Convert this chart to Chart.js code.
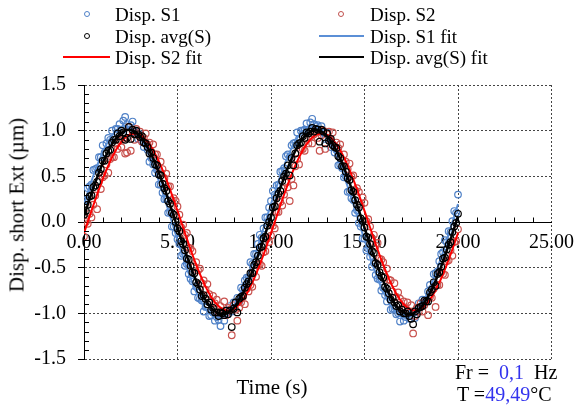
<!DOCTYPE html>
<html>
<head>
<meta charset="utf-8">
<script src="https://cdn.jsdelivr.net/npm/chart.js@4/dist/chart.umd.min.js"></script>
<style>
  html, body { margin: 0; padding: 0; background: #fff; }
  #wrap { position: relative; width: 583px; height: 409px; font-family: "Liberation Serif", "Times New Roman", serif; color: #000; }
  #chart { position: absolute; left: 0; top: 0; }
  .txt { position: absolute; white-space: nowrap; font-size: 19px; line-height: 1; transform: translateY(-50%); }
  .dot { position: absolute; width: 4px; height: 4px; border-radius: 50%; border: 1px solid; transform: translate(-50%, -50%); }
  .ln { position: absolute; height: 2px; transform: translateY(-50%); }
  .blue { color: #3333ee; }
</style>
</head>
<body>
<div id="wrap">
  <canvas id="chart" width="583" height="409"></canvas>

  <span class="dot" style="left:87px;top:14px;border-color:#4f81c7"></span>
  <span class="txt" style="left:115px;top:14px">Disp. S1</span>
  <span class="dot" style="left:341px;top:14px;border-color:#c0504d"></span>
  <span class="txt" style="left:370px;top:14px">Disp. S2</span>
  <span class="dot" style="left:87px;top:36px;border-color:#000"></span>
  <span class="txt" style="left:115px;top:36px">Disp. avg(S)</span>
  <span class="ln" style="left:319px;top:36px;width:45px;background:#5b8fd6"></span>
  <span class="txt" style="left:370px;top:36px">Disp. S1 fit</span>
  <span class="ln" style="left:63px;top:57px;width:47px;background:#ff0000"></span>
  <span class="txt" style="left:115px;top:57px">Disp. S2 fit</span>
  <span class="ln" style="left:319px;top:57px;width:45px;background:#000"></span>
  <span class="txt" style="left:370px;top:57px">Disp. avg(S) fit</span>

  <span class="txt" style="left:17px;top:205px;font-size:21px;transform:translate(-50%,-50%) rotate(-90deg)">Disp. short Ext (µm)</span>
  <span class="txt" style="left:272px;top:387px;font-size:21px;transform:translate(-50%,-50%)">Time (s)</span>

  <span class="txt" style="left:455px;top:372px;font-size:20px">Fr = <span class="blue">&nbsp;0,1</span>&nbsp; Hz</span>
  <span class="txt" style="left:457px;top:394px;font-size:20px">T =<span class="blue">49,49</span>°C</span>
</div>
<script>
// sample times (s)
const time = [
  0,0.1,0.2,0.3,0.4,0.5,0.6,0.7,0.8,0.9,
  1,1.1,1.2,1.3,1.4,1.5,1.6,1.7,1.8,1.9,
  2,2.1,2.2,2.3,2.4,2.5,2.6,2.7,2.8,2.9,
  3,3.1,3.2,3.3,3.4,3.5,3.6,3.7,3.8,3.9,
  4,4.1,4.2,4.3,4.4,4.5,4.6,4.7,4.8,4.9,
  5,5.1,5.2,5.3,5.4,5.5,5.6,5.7,5.8,5.9,
  6,6.1,6.2,6.3,6.4,6.5,6.6,6.7,6.8,6.9,
  7,7.1,7.2,7.3,7.4,7.5,7.6,7.7,7.8,7.9,
  8,8.1,8.2,8.3,8.4,8.5,8.6,8.7,8.8,8.9,
  9,9.1,9.2,9.3,9.4,9.5,9.6,9.7,9.8,9.9,
  10,10.1,10.2,10.3,10.4,10.5,10.6,10.7,10.8,10.9,
  11,11.1,11.2,11.3,11.4,11.5,11.6,11.7,11.8,11.9,
  12,12.1,12.2,12.3,12.4,12.5,12.6,12.7,12.8,12.9,
  13,13.1,13.2,13.3,13.4,13.5,13.6,13.7,13.8,13.9,
  14,14.1,14.2,14.3,14.4,14.5,14.6,14.7,14.8,14.9,
  15,15.1,15.2,15.3,15.4,15.5,15.6,15.7,15.8,15.9,
  16,16.1,16.2,16.3,16.4,16.5,16.6,16.7,16.8,16.9,
  17,17.1,17.2,17.3,17.4,17.5,17.6,17.7,17.8,17.9,
  18,18.1,18.2,18.3,18.4,18.5,18.6,18.7,18.8,18.9,
  19,19.1,19.2,19.3,19.4,19.5,19.6,19.7,19.8,19.9,
  20
];

// measured displacement, sensor 1 (µm)
const dispS1 = [
  0.23,0.24,0.37,0.39,0.41,0.57,0.58,0.59,0.71,0.71,
  0.84,0.76,0.86,0.92,0.90,1.00,0.92,1.02,1.02,1.07,
  1.01,1.11,1.15,1.07,0.99,1.06,1.10,0.98,0.99,0.91,
  0.96,0.89,0.82,0.86,0.79,0.66,0.70,0.63,0.54,0.57,
  0.41,0.41,0.32,0.25,0.25,0.10,0.11,-0.05,-0.05,-0.12,
  -0.19,-0.24,-0.37,-0.35,-0.48,-0.46,-0.57,-0.62,-0.65,-0.76,
  -0.71,-0.83,-0.84,-0.86,-0.98,-0.93,-0.93,-1.03,-1.02,-0.99,
  -1.08,-1.04,-1.07,-1.14,-1.01,-1.08,-1.00,-1.01,-0.92,-0.98,
  -0.88,-0.89,-0.83,-0.87,-0.72,-0.74,-0.64,-0.61,-0.61,-0.44,
  -0.46,-0.35,-0.35,-0.24,-0.14,-0.17,-0.07,0.05,0.05,0.16,
  0.23,0.34,0.30,0.40,0.41,0.55,0.56,0.59,0.72,0.74,
  0.71,0.84,0.86,0.87,0.98,0.91,1.00,1.00,1.01,1.08,
  1.01,1.09,1.13,1.07,1.05,1.06,1.00,1.05,0.98,0.91,
  0.98,0.91,0.82,0.85,0.76,0.79,0.62,0.63,0.59,0.49,
  0.50,0.33,0.34,0.26,0.24,0.10,0.13,-0.01,-0.05,-0.18,
  -0.18,-0.31,-0.29,-0.38,-0.49,-0.45,-0.58,-0.62,-0.63,-0.75,
  -0.72,-0.80,-0.87,-0.82,-0.96,-0.95,-0.95,-1.01,-1.00,-1.09,
  -1.00,-1.08,-1.04,-1.00,-1.06,-1.03,-0.99,-1.05,-0.96,-0.89,
  -0.93,-0.85,-0.87,-0.85,-0.76,-0.69,-0.73,-0.57,-0.56,-0.54,
  -0.43,-0.35,-0.33,-0.20,-0.22,-0.10,-0.11,0.01,0.12,0.10,
  0.30
];

// measured displacement, sensor 2 (µm)
const dispS2 = [
  -0.16,0.00,-0.02,0.09,0.05,0.19,0.29,0.14,0.44,0.36,
  0.49,0.51,0.63,0.54,0.69,0.71,0.71,0.86,0.80,0.89,
  0.82,0.91,0.75,0.76,1.04,0.78,0.99,0.90,1.02,0.95,
  0.99,0.88,0.92,0.97,0.85,0.87,0.77,0.85,0.74,0.74,
  0.58,0.66,0.58,0.48,0.53,0.39,0.39,0.24,0.26,0.23,
  0.17,0.08,-0.06,-0.03,-0.14,-0.12,-0.28,-0.29,-0.32,-0.49,
  -0.44,-0.53,-0.51,-0.67,-0.64,-0.74,-0.68,-0.79,-0.88,-0.81,
  -0.89,-0.85,-0.99,-0.92,-0.98,-0.87,-1.02,-0.94,-0.96,-1.24,
  -0.91,-0.96,-1.08,-0.94,-0.88,-0.82,-0.90,-0.73,-0.76,-0.69,
  -0.71,-0.54,-0.60,-0.47,-0.46,-0.48,-0.33,-0.32,-0.18,-0.22,
  -0.15,-0.04,-0.07,0.11,0.11,0.22,0.18,0.30,0.43,0.38,
  0.23,0.47,0.40,0.61,0.69,0.63,0.79,0.80,0.78,0.91,
  0.86,0.93,0.86,0.96,1.00,0.92,0.78,0.95,1.00,0.80,
  0.96,0.99,0.89,0.98,0.83,0.87,0.81,0.85,0.67,0.74,
  0.66,0.58,0.64,0.50,0.51,0.35,0.37,0.33,0.19,0.27,
  0.21,0.01,0.03,-0.05,-0.18,-0.14,-0.26,-0.23,-0.40,-0.41,
  -0.44,-0.60,-0.51,-0.63,-0.64,-0.76,-0.67,-0.82,-0.77,-0.84,
  -0.95,-0.87,-0.94,-0.88,-0.99,-0.91,-1.22,-1.03,-0.94,-0.98,
  -0.89,-0.98,-0.91,-0.86,-1.02,-0.82,-0.83,-0.73,-0.93,-0.69,
  -0.69,-0.55,-0.57,-0.58,-0.43,-0.42,-0.31,-0.37,-0.22,-0.21,
  -0.08
];

// average of both sensors (µm)
const dispAvg = [
  0.08,0.12,0.19,0.28,0.29,0.38,0.40,0.44,0.54,0.58,
  0.67,0.67,0.75,0.78,0.79,0.87,0.90,0.90,0.97,0.94,
  1.00,0.98,0.90,0.92,1.04,0.91,1.01,0.96,1.00,0.96,
  0.93,0.94,0.87,0.86,0.82,0.75,0.76,0.70,0.63,0.62,
  0.52,0.51,0.42,0.37,0.34,0.23,0.20,0.10,0.08,0.00,
  -0.07,-0.10,-0.21,-0.24,-0.31,-0.40,-0.41,-0.48,-0.55,-0.56,
  -0.66,-0.68,-0.74,-0.81,-0.80,-0.84,-0.90,-0.88,-0.96,-0.94,
  -0.99,-0.99,-1.03,-0.99,-1.00,-1.02,-0.97,-1.01,-0.97,-1.15,
  -0.95,-0.88,-0.99,-0.84,-0.82,-0.81,-0.72,-0.68,-0.65,-0.56,
  -0.56,-0.47,-0.44,-0.37,-0.28,-0.27,-0.18,-0.16,-0.04,0.00,
  0.05,0.16,0.17,0.26,0.31,0.34,0.45,0.50,0.53,0.62,
  0.51,0.70,0.62,0.75,0.84,0.86,0.87,0.94,0.92,0.98,
  0.97,0.99,1.03,0.99,1.02,1.01,0.88,1.01,0.99,0.86,
  0.97,0.89,0.91,0.84,0.82,0.81,0.72,0.70,0.61,0.61,
  0.55,0.48,0.46,0.35,0.33,0.24,0.19,0.16,0.04,0.01,
  -0.06,-0.16,-0.17,-0.24,-0.32,-0.34,-0.45,-0.47,-0.55,-0.59,
  -0.61,-0.71,-0.73,-0.78,-0.85,-0.83,-0.88,-0.92,-0.91,-0.98,
  -0.96,-1.00,-1.00,-0.98,-1.03,-1.06,-1.12,-0.98,-1.01,-0.94,
  -0.93,-0.92,-0.86,-0.87,-0.87,-0.77,-0.74,-0.66,-0.70,-0.57,
  -0.55,-0.49,-0.40,-0.39,-0.30,-0.25,-0.22,-0.11,-0.05,-0.01,
  0.09
];

// fitted curves, sampled every 0.5 s
const fitTime = [
  0,0.5,1,1.5,2,2.5,3,3.5,4,4.5,5,5.5,6,6.5,7,7.5,8,8.5,9,9.5,
  10,10.5,11,11.5,12,12.5,13,13.5,14,14.5,15,15.5,16,16.5,17,17.5,18,18.5,19,19.5,
  20
];
const fitS1 = [
  0.197,0.506,0.765,0.950,1.042,1.031,0.920,0.719,0.447,0.132,
  -0.197,-0.506,-0.765,-0.950,-1.042,-1.031,-0.920,-0.719,-0.447,-0.132,
  0.197,0.506,0.765,0.950,1.042,1.031,0.920,0.719,0.447,0.132,
  -0.197,-0.506,-0.765,-0.950,-1.042,-1.031,-0.920,-0.719,-0.447,-0.132,
  0.197
];
const fitS2 = [
  -0.122,0.182,0.467,0.707,0.878,0.962,0.953,0.850,0.664,0.413,
  0.122,-0.182,-0.467,-0.707,-0.878,-0.962,-0.953,-0.850,-0.664,-0.413,
  -0.122,0.182,0.467,0.707,0.878,0.962,0.953,0.850,0.664,0.413,
  0.122,-0.182,-0.467,-0.707,-0.878,-0.962,-0.953,-0.850,-0.664,-0.413,
  -0.122
];
const fitAvg = [
  0.063,0.372,0.644,0.853,0.978,1.008,0.939,0.778,0.541,0.251,
  -0.063,-0.372,-0.644,-0.853,-0.978,-1.008,-0.939,-0.778,-0.541,-0.251,
  0.063,0.372,0.644,0.853,0.978,1.008,0.939,0.778,0.541,0.251,
  -0.063,-0.372,-0.644,-0.853,-0.978,-1.008,-0.939,-0.778,-0.541,-0.251,
  0.063
];

const pts = (xs, ys) => ys.map((y, i) => ({ x: xs[i], y: y }));

// small inward ticks like the original plot
const minorTicks = {
  id: 'minorTicks',
  afterDraw(chart) {
    const c = chart.ctx;
    const xs = chart.scales.x, ys = chart.scales.y;
    c.save();
    c.strokeStyle = '#000';
    c.lineWidth = 1;
    c.beginPath();
    for (let v = -14; v <= 14; v++) {
      if (v % 5 === 0) continue;
      const py = Math.round(ys.getPixelForValue(v / 10)) + 0.5;
      c.moveTo(xs.left, py);
      c.lineTo(xs.left + 5, py);
    }
    const y0 = Math.round(ys.getPixelForValue(0)) + 0.5;
    for (let t = 1; t <= 24; t++) {
      const px = Math.round(xs.getPixelForValue(t)) + 0.5;
      c.moveTo(px, y0);
      c.lineTo(px, y0 - 5);
    }
    c.stroke();
    c.restore();
  }
};

const font = { family: 'Liberation Serif', size: 20 };

new Chart(document.getElementById('chart'), {
  type: 'scatter',
  data: {
    datasets: [
      {
        label: 'Disp. S1',
        data: pts(time, dispS1),
        borderColor: '#4f81c7',
        backgroundColor: 'rgba(0,0,0,0)',
        pointRadius: 3.3,
        borderWidth: 1.2,
        order: 6
      },
      {
        label: 'Disp. S2',
        data: pts(time, dispS2),
        borderColor: '#c8524e',
        backgroundColor: 'rgba(0,0,0,0)',
        pointRadius: 3.3,
        borderWidth: 1.2,
        order: 5
      },
      {
        label: 'Disp. avg(S)',
        data: pts(time, dispAvg),
        borderColor: '#000',
        backgroundColor: 'rgba(0,0,0,0)',
        pointRadius: 3.3,
        borderWidth: 1.2,
        order: 2
      },
      {
        label: 'Disp. S1 fit',
        data: pts(fitTime, fitS1),
        showLine: true,
        borderColor: '#5b8fd6',
        borderWidth: 2,
        pointRadius: 0,
        tension: 0.4,
        order: 4
      },
      {
        label: 'Disp. S2 fit',
        data: pts(fitTime, fitS2),
        showLine: true,
        borderColor: '#ff0000',
        borderWidth: 2,
        pointRadius: 0,
        tension: 0.4,
        order: 3
      },
      {
        label: 'Disp. avg(S) fit',
        data: pts(fitTime, fitAvg),
        showLine: true,
        borderColor: '#000',
        borderWidth: 2.5,
        pointRadius: 0,
        tension: 0.4,
        order: 1
      }
    ]
  },
  options: {
    responsive: false,
    animation: false,
    devicePixelRatio: 1,
    layout: { padding: { left: 0, top: 85, right: 26, bottom: 50 } },
    plugins: {
      legend: { display: false },
      tooltip: { enabled: false }
    },
    scales: {
      x: {
        type: 'linear',
        position: { y: 0 },
        min: 0,
        max: 25,
        ticks: {
          stepSize: 5,
          color: '#000',
          font: font,
          padding: 9,
          maxRotation: 0,
          callback: v => v.toFixed(2)
        },
        grid: { color: '#444', drawTicks: false },
        border: { color: '#000', width: 1, dash: [2, 2] }
      },
      y: {
        min: -1.5,
        max: 1.5,
        ticks: {
          stepSize: 0.5,
          color: '#000',
          font: font,
          padding: 12,
          callback: v => v.toFixed(1)
        },
        grid: { color: '#444', tickLength: 6, tickColor: '#000' },
        border: { color: '#000', width: 1, dash: [2, 2] },
        afterFit: s => { s.width = 84; }
      }
    }
  },
  plugins: [minorTicks]
});
</script>
</body>
</html>
